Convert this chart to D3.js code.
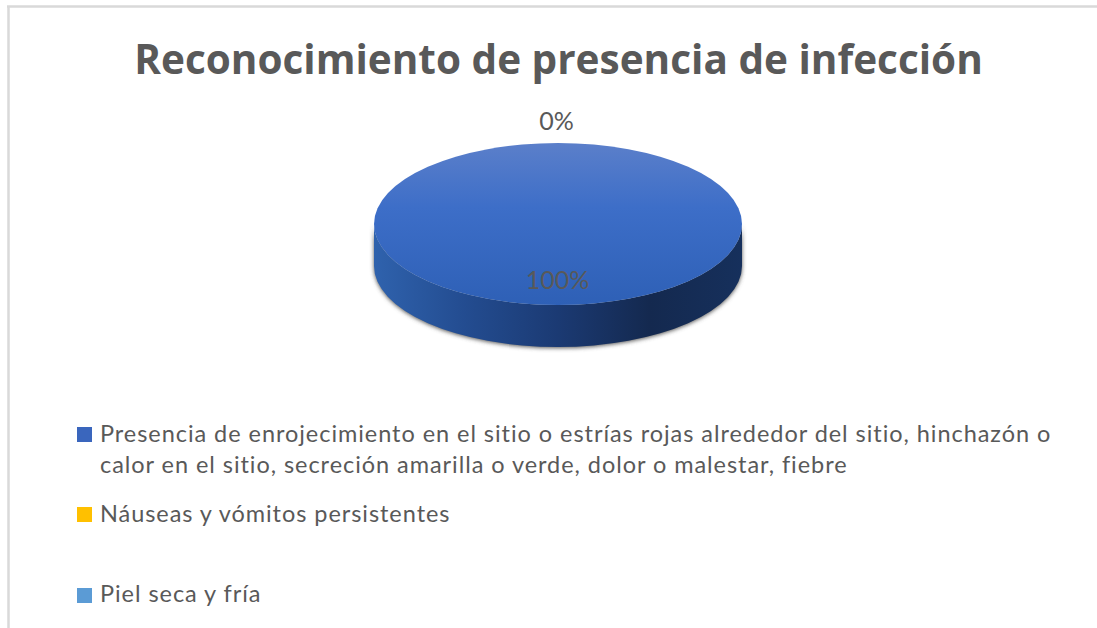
<!DOCTYPE html>
<html>
<head>
<meta charset="utf-8">
<script src="https://cdn.jsdelivr.net/npm/d3@7"></script>
<style>
  html, body { margin: 0; padding: 0; background: #fff; overflow: hidden; }
  text { font-family: Lato, "Open Sans", sans-serif; fill: #595959; }
</style>
</head>
<body>
<script>
// chart data
var titleText = "Reconocimiento de presencia de infección";
var categories = [
    ["Presencia de enrojecimiento en el sitio o estrías rojas alrededor del sitio, hinchazón o",
     "calor en el sitio, secreción amarilla o verde, dolor o malestar, fiebre"],
    ["Náuseas y vómitos persistentes"],
    ["Piel seca y fría"]
];
var values = [100, 0, 0];
var percentLabels = ["100%", "0%"];
var colors = ["#3a66bd", "#ffc000", "#5b9bd5"];

var svgWidth = 1097;
var svgHeight = 628;

var svg = d3.select("body")
    .append("svg")
    .attr("width", svgWidth)
    .attr("height", svgHeight);

var defs = svg.append("defs");

// vertical shading of the pie top
var topGrad = defs.append("linearGradient")
    .attr("id", "topGrad")
    .attr("x1", 0).attr("y1", 0).attr("x2", 0).attr("y2", 1);
topGrad.append("stop").attr("offset", "0%").attr("stop-color", "#5b7fca");
topGrad.append("stop").attr("offset", "40%").attr("stop-color", "#3d6ec8");
topGrad.append("stop").attr("offset", "100%").attr("stop-color", "#2e60b6");

// horizontal shading of the pie edge
var sideGrad = defs.append("linearGradient")
    .attr("id", "sideGrad")
    .attr("x1", 0).attr("y1", 0).attr("x2", 1).attr("y2", 0);
sideGrad.append("stop").attr("offset", "0%").attr("stop-color", "#2f62ad");
sideGrad.append("stop").attr("offset", "25%").attr("stop-color", "#234c90");
sideGrad.append("stop").attr("offset", "50%").attr("stop-color", "#1b3a73");
sideGrad.append("stop").attr("offset", "75%").attr("stop-color", "#14294f");
sideGrad.append("stop").attr("offset", "100%").attr("stop-color", "#16305c");

var blur = defs.append("filter")
    .attr("id", "shadowBlur")
    .attr("x", "-10%").attr("y", "-10%").attr("width", "120%").attr("height", "120%");
blur.append("feGaussianBlur").attr("stdDeviation", 2);

// chart frame, only the top and left edges show in the picture
svg.append("line")
    .attr("x1", 7).attr("y1", 6.5).attr("x2", svgWidth).attr("y2", 6.5)
    .attr("stroke", "#d9d9d9").attr("stroke-width", 2.5);
svg.append("line")
    .attr("x1", 8.5).attr("y1", 6).attr("x2", 8.5).attr("y2", svgHeight)
    .attr("stroke", "#d9d9d9").attr("stroke-width", 2.5);

svg.append("text")
    .attr("x", 558.5)
    .attr("y", 74)
    .attr("text-anchor", "middle")
    .attr("font-weight", 700)
    .attr("font-size", 40.5)
    .style("font-family", '"Open Sans", sans-serif')
    .style("fill", "#595959")
    .text(titleText);

// pie
var cx = 558, cy = 224, rx = 184, ry = 81, depth = 42;

var pie = d3.pie().sort(null);
var arcs = pie(values);
var arc = d3.arc().innerRadius(0).outerRadius(rx);

var pieGroup = svg.append("g");

var edgeShape = `M${cx - rx},${cy} A${rx},${ry} 0 0 0 ${cx + rx},${cy} ` +
    `L${cx + rx},${cy + depth} A${rx},${ry} 0 0 1 ${cx - rx},${cy + depth} Z`;

pieGroup.append("path")
    .attr("d", edgeShape)
    .attr("fill", "#555")
    .attr("filter", "url(#shadowBlur)")
    .attr("transform", "translate(0,1)");

pieGroup.append("path")
    .attr("d", edgeShape)
    .attr("fill", "url(#sideGrad)");

pieGroup.selectAll("path.slice")
    .data(arcs)
    .join("path")
    .attr("class", "slice")
    .attr("transform", `translate(${cx},${cy}) scale(1,${ry / rx})`)
    .attr("d", arc)
    .attr("fill", "url(#topGrad)");

// data labels
svg.append("text")
    .attr("x", 557.5).attr("y", 289)
    .attr("text-anchor", "middle")
    .attr("font-size", 25)
    .text(percentLabels[0]);
svg.append("text")
    .attr("x", 556.5).attr("y", 130)
    .attr("text-anchor", "middle")
    .attr("font-size", 25)
    .text(percentLabels[1]);

// legend
var legendTop = [427, 507, 588];
var legendBase = [[442, 473], [522], [602]];

var legend = svg.selectAll("g.legend")
    .data(categories)
    .join("g")
    .attr("class", "legend");

legend.append("rect")
    .attr("x", 77)
    .attr("y", (d, i) => legendTop[i])
    .attr("width", 15)
    .attr("height", 15)
    .attr("fill", (d, i) => colors[i]);

legend.each(function (d, i) {
    var label = d3.select(this).append("text")
        .attr("font-size", 23.5)
        .attr("letter-spacing", 0.95);
    label.selectAll("tspan")
        .data(d)
        .join("tspan")
        .attr("x", 100)
        .attr("y", (line, j) => legendBase[i][j])
        .text(line => line);
});
</script>
</body>
</html>
